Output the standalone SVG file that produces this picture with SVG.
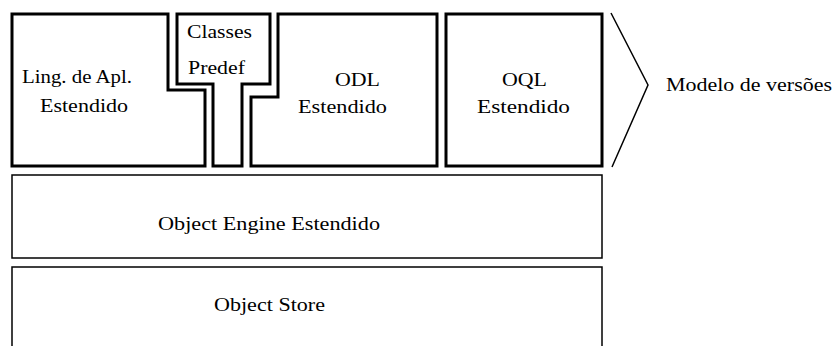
<svg xmlns="http://www.w3.org/2000/svg" width="834" height="346" viewBox="0 0 834 346">
  <style>
    .top { fill: #ffffff; stroke: #000000; stroke-width: 3; stroke-linejoin: miter; }
    .low { fill: #ffffff; stroke: #000000; stroke-width: 1.5; }
    .thin { fill: none; stroke: #000000; stroke-width: 1.5; }
    text { font-family: "Liberation Serif", "Times New Roman", serif; font-size: 18px; fill: #000000; }
  </style>
  <rect x="0" y="0" width="834" height="346" fill="#ffffff"/>

  <g id="ling">
    <path class="top" d="M12,14 H168 V90 H205 V166 H12 Z"/>
    <text x="22" y="83" textLength="110" lengthAdjust="spacingAndGlyphs">Ling. de Apl.</text>
    <text x="40" y="112" textLength="88" lengthAdjust="spacingAndGlyphs">Estendido</text>
  </g>

  <g id="classes">
    <path class="top" d="M177,14 H270 V84 H242 V166 H213 V84 H177 Z"/>
    <text x="187" y="38" textLength="65" lengthAdjust="spacingAndGlyphs">Classes</text>
    <text x="188" y="74" textLength="57" lengthAdjust="spacingAndGlyphs">Predef</text>
  </g>

  <g id="odl">
    <path class="top" d="M278,14 H437 V166 H251 V97 H278 Z"/>
    <text x="335" y="86" textLength="45" lengthAdjust="spacingAndGlyphs">ODL</text>
    <text x="298" y="113" textLength="89" lengthAdjust="spacingAndGlyphs">Estendido</text>
  </g>

  <g id="oql">
    <rect class="top" x="446" y="14" width="156" height="152"/>
    <text x="502" y="86" textLength="45" lengthAdjust="spacingAndGlyphs">OQL</text>
    <text x="477" y="113" textLength="93" lengthAdjust="spacingAndGlyphs">Estendido</text>
  </g>

  <g id="modelo">
    <polyline class="thin" points="611,13 648,85 612,167"/>
    <text x="666" y="91" textLength="166" lengthAdjust="spacingAndGlyphs">Modelo de versões</text>
  </g>

  <g id="engine">
    <rect class="low" x="12" y="175" width="590" height="83"/>
    <text x="158" y="230" textLength="222" lengthAdjust="spacingAndGlyphs">Object Engine Estendido</text>
  </g>

  <g id="store">
    <rect class="low" x="12" y="267" width="590" height="90"/>
    <text x="214" y="311" textLength="111" lengthAdjust="spacingAndGlyphs">Object Store</text>
  </g>

  <g id="connectors"></g>
</svg>
